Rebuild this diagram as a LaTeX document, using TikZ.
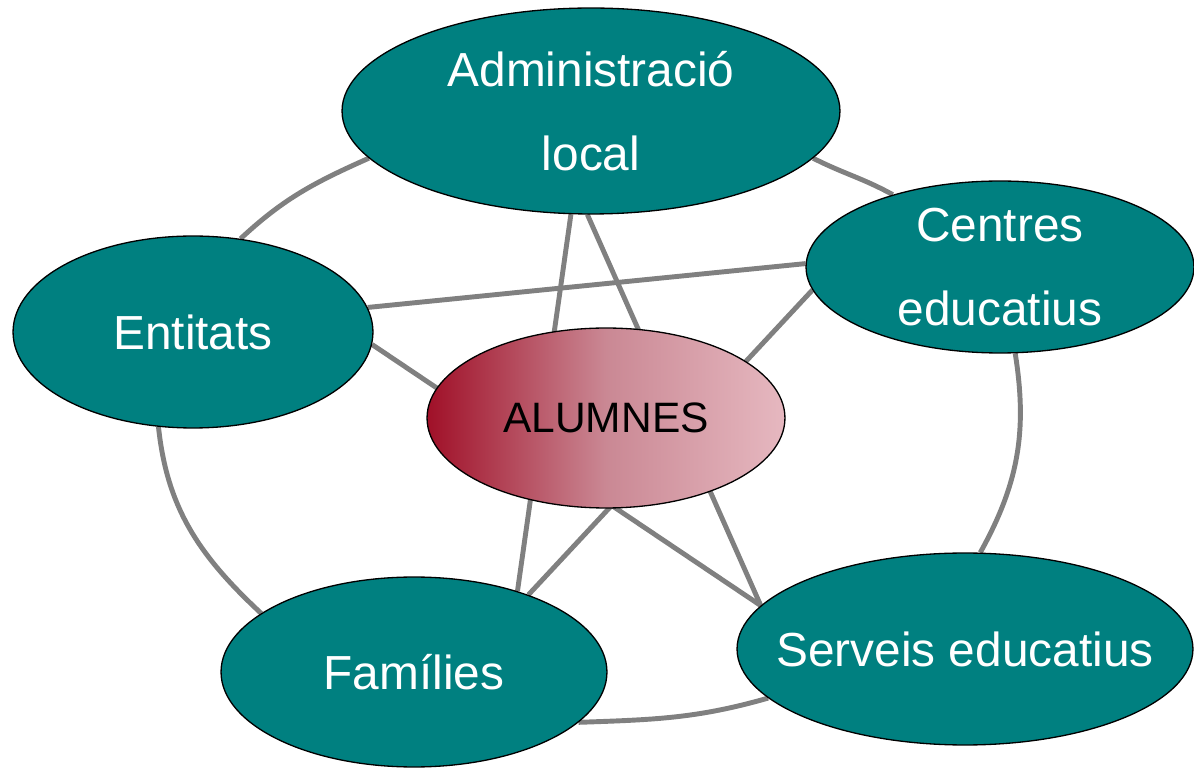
\documentclass[tikz,border=0pt]{standalone}
\usepackage{fontspec}
\setmainfont{Liberation Sans}
\usepackage{tikz}
\usetikzlibrary{shapes.geometric, backgrounds, positioning}

\definecolor{tealfill}{RGB}{0,128,128}
\definecolor{alumdark}{RGB}{160,16,40}
\definecolor{alummid}{RGB}{202,136,148}
\definecolor{alumlight}{RGB}{230,184,192}
\definecolor{linkgray}{RGB}{128,128,128}

\begin{document}
\begin{tikzpicture}[x=0.02cm, y=0.02cm,
		agent/.style={ellipse, draw=black, line width=0.75pt, fill=tealfill, text=white, inner sep=-0.6cm, align=center, font=\fontsize{27.2}{47.8}\selectfont},
		pupil/.style={ellipse, draw=black, line width=0.75pt, left color=alumdark, right color=alumlight, middle color=alummid, text=black, inner sep=-0.6cm, font=\fontsize{24.2}{29}\selectfont},
		link/.style={draw=linkgray, line width=2.8pt}
		]
	\useasboundingbox (0,0) rectangle (1194,768);

		\node[agent, minimum width=9.96cm, minimum height=4.12cm] (adm) at (591,657) {Administració\\local};
		\node[agent, minimum width=7.76cm, minimum height=3.44cm] (cen) at (1000,501) {Centres\\educatius};
		\node[agent, minimum width=7.2cm, minimum height=3.84cm] (ent) at (193,436) {Entitats};
		\node[pupil, minimum width=7.16cm, minimum height=3.6cm] (alu) at (606,350) {ALUMNES};
		\node[agent, minimum width=7.72cm, minimum height=3.8cm] (fam) at (414,96) {Famílies};
		\node[agent, minimum width=9.12cm, minimum height=3.84cm] (ser) at (965,119) {Serveis educatius};

	\begin{scope}[on background layer]
		\draw[link] (adm.192) to[out=204, in=43] (ent.63);
		\draw[link] (ent.250) to[out=276, in=137] (fam.159);
		\draw[link] (fam.343) to[out=2, in=196] (ser.194);
		\draw[link] (ser.81) to[out=61, in=279] (cen.280);
		\draw[link] (cen.146) to[out=151, in=333] (adm.348);

		\draw[link] (adm.259) -- (fam.38);
		\draw[link] (adm.268) -- (ser.168);
		\draw[link] (ent.8) -- (cen.179);
		\draw[link] (ent.356) -- (ser.168);
		\draw[link] (cen.187) -- (fam.34);
	\end{scope}

	\end{tikzpicture}
\end{document}
